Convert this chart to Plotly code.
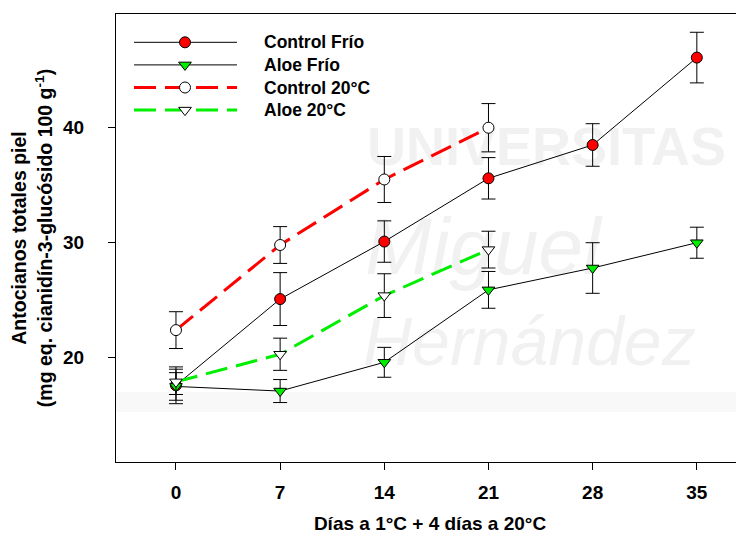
import plotly.graph_objects as go

# ---------------- data ----------------
days = [0, 7, 14, 21, 28, 35]
days_20 = [0, 7, 14, 21]
x_tick_labels = ["0", "7", "14", "21", "28", "35"]
y_tick_vals = [20, 30, 40]
y_tick_labels = ["20", "30", "40"]

control_frio = [17.6, 25.1, 30.1, 35.6, 38.5, 46.1]
control_frio_err = [1.6, 2.3, 1.8, 1.8, 1.85, 2.2]
aloe_frio = [17.5, 17.1, 19.6, 25.9, 27.8, 30.0]
aloe_frio_err = [1.2, 1.0, 1.3, 1.6, 2.2, 1.35]
control_20 = [22.4, 29.8, 35.5, 40.0]
control_20_err = [1.6, 1.6, 2.0, 2.1]
aloe_20 = [17.9, 20.3, 25.4, 29.4]
aloe_20_err = [1.1, 1.4, 1.9, 1.6]

series_names = ["Control Frío", "Aloe Frío", "Control 20°C", "Aloe 20°C"]

FONT = "Arial, 'Liberation Sans', sans-serif"
RED = "#ff0000"
GREEN = "#00ee00"

# layout geometry (page has an 8px body margin)
OFF = 8
W, H = 744 - OFF, 539 - OFF
ML, MR, MT, MB = 116 - OFF, 0, 14 - OFF, 539 - 462
PW, PH = W - ML - MR, H - MT - MB

styles = [
    dict(x=days, y=control_frio, e=control_frio_err,
         line=dict(color="black", width=1),
         marker=dict(symbol="circle", size=11, color=RED, line=dict(color="black", width=1))),
    dict(x=days, y=aloe_frio, e=aloe_frio_err,
         line=dict(color="black", width=1),
         marker=dict(symbol="triangle-down", size=11, color=GREEN, line=dict(color="black", width=1))),
    dict(x=days_20, y=control_20, e=control_20_err,
         line=dict(color=RED, width=3, dash="22px,9px"),
         marker=dict(symbol="circle", size=11, color="white", line=dict(color="black", width=1))),
    dict(x=days_20, y=aloe_20, e=aloe_20_err,
         line=dict(color=GREEN, width=3, dash="22px,9px"),
         marker=dict(symbol="triangle-down", size=11, color="white", line=dict(color="black", width=1))),
]

fig = go.Figure()

for name, s in zip(series_names, styles):
    fig.add_trace(go.Scatter(
        x=s["x"], y=s["y"], name=name, mode="lines+markers",
        line=s["line"], marker=s["marker"],
        error_y=dict(type="data", array=s["e"], visible=True,
                     color="black", thickness=1, width=7),
        showlegend=False,
    ))

# -------- custom legend (drawn on an overlay pixel-space axis) --------
leg_row0, leg_step = 28.3, 22.6
leg_x0, leg_x1, leg_xm, leg_text_x = 18, 121, 69, 146
annotations = []
for i, (name, s) in enumerate(zip(series_names, styles)):
    ry = leg_row0 + i * leg_step
    fig.add_trace(go.Scatter(x=[leg_x0, leg_x1], y=[ry, ry], mode="lines",
                             line=s["line"], xaxis="x2", yaxis="y2",
                             showlegend=False, hoverinfo="skip"))
    fig.add_trace(go.Scatter(x=[leg_xm], y=[ry], mode="markers",
                             marker=s["marker"], xaxis="x2", yaxis="y2",
                             showlegend=False, hoverinfo="skip"))
    annotations.append(dict(x=leg_text_x, y=ry, xref="x2", yref="y2",
                            text="<b>%s</b>" % name, showarrow=False,
                            xanchor="left", yanchor="middle",
                            font=dict(family=FONT, size=17.5, color="black")))

# -------- faint watermark (below data) --------
WM = "#f1f1f1"
def px_x(p):
    return (p - OFF - ML) / PW
def px_y(p):
    return (MT + PH - (p - OFF)) / PH

shapes = [
    dict(type="rect", xref="paper", yref="paper", layer="below",
         x0=0, x1=1, y0=px_y(412), y1=px_y(392), line=dict(width=0),
         fillcolor="#f8f8f8"),
    dict(type="rect", xref="paper", yref="paper", layer="below",
         x0=px_x(364), x1=1, y0=px_y(172), y1=px_y(110), line=dict(width=0),
         fillcolor="rgba(0,0,0,0)",
         label=dict(text="<b>UNIVERSITAS</b>", textposition="middle left", padding=0,
                    font=dict(family=FONT, size=54, color=WM))),
    dict(type="rect", xref="paper", yref="paper", layer="below",
         x0=px_x(362), x1=1, y0=px_y(280), y1=px_y(196), line=dict(width=0),
         fillcolor="rgba(0,0,0,0)",
         label=dict(text="<i>Miguel</i>", textposition="middle left", padding=0,
                    font=dict(family=FONT, size=80, color=WM))),
    dict(type="rect", xref="paper", yref="paper", layer="below",
         x0=px_x(360), x1=1, y0=px_y(376), y1=px_y(294), line=dict(width=0),
         fillcolor="rgba(0,0,0,0)",
         label=dict(text="<i>Hernández</i>", textposition="middle left", padding=0,
                    font=dict(family=FONT, size=68, color=WM))),
]

fig.update_layout(
    width=W, height=H,
    margin=dict(l=ML, r=MR, t=MT, b=MB, pad=0),
    paper_bgcolor="white", plot_bgcolor="white",
    font=dict(family=FONT, color="black"),
    showlegend=False,
    annotations=annotations,
    shapes=shapes,
    xaxis=dict(
        range=[-4.03, 38.17], tickvals=days, ticktext=x_tick_labels,
        ticks="outside", ticklen=7, tickwidth=1, tickcolor="black",
        showline=True, linecolor="black", linewidth=1, mirror=True,
        showgrid=False, zeroline=False, ticklabelstandoff=6,
        tickfont=dict(family=FONT, size=19, color="black", weight="bold"),
        title=dict(text="<b>Días a 1°C + 4 días a 20°C</b>", standoff=14,
                   font=dict(family=FONT, size=19, color="black")),
    ),
    yaxis=dict(
        range=[10.93, 49.89], tickvals=y_tick_vals, ticktext=y_tick_labels,
        ticks="outside", ticklen=7, tickwidth=1, tickcolor="black",
        showline=True, linecolor="black", linewidth=1, mirror=False,
        showgrid=False, zeroline=False, ticklabelstandoff=20,
        tickfont=dict(family=FONT, size=19, color="black", weight="bold"),
        title=dict(text="<b>Antocianos totales piel<br>(mg eq. cianidín-3-glucósido 100 g<sup>-1</sup>)</b>",
                   standoff=5, font=dict(family=FONT, size=19.5, color="black")),
    ),
    xaxis2=dict(overlaying="x", anchor="y2", range=[0, PW], visible=False),
    yaxis2=dict(overlaying="y", anchor="x2", range=[PH, 0], visible=False),
)

fig.write_html("out.html")
